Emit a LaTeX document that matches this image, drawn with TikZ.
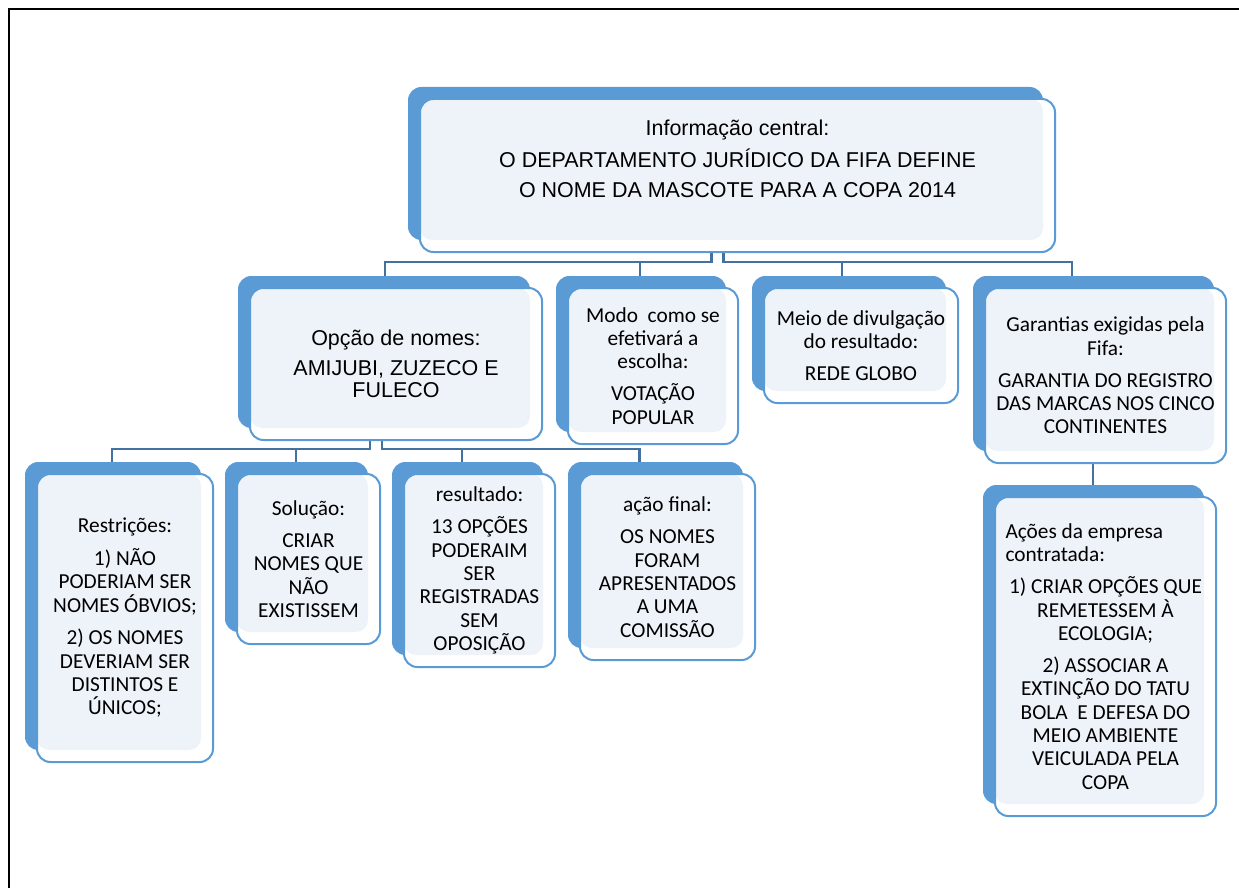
\documentclass[tikz,border=0pt]{standalone}
\usepackage{fontspec}
\setmainfont{Carlito}
\newfontfamily\arialfont{Liberation Sans}
\usetikzlibrary{shadows,backgrounds}

\definecolor{azulfundo}{RGB}{91,155,213}
\definecolor{azulclaro}{RGB}{238,243,250}
\definecolor{azulliga}{RGB}{68,114,160}

\tikzset{
  caixa/.style={draw=azulfundo, line width=1.5pt, fill=white, rounded corners=10pt,
    general shadow={fill=azulfundo, shadow xshift=-9pt, shadow yshift=9pt},
    path picture={\fill[azulclaro, rounded corners=9pt] (path picture bounding box.north west)
      rectangle ([xshift=-9pt,yshift=9pt]path picture bounding box.south east);},
    align=flush center, inner sep=0pt, font=\fontsize{16}{17.5}\selectfont},
  caixaarial/.style={caixa, font=\arialfont\fontsize{16.1}{16.5}\selectfont},
  liga/.style={draw=azulliga, line width=1.8pt}
}

\begin{document}
\begin{tikzpicture}[x=0.75pt, y=-0.75pt]
    \useasboundingbox (0,0) rectangle (1239,888);
    \draw[line width=2.2pt] (9,888) -- (9,9) -- (1239,9);

    % topo
    \node[caixaarial, minimum width=476.25pt, minimum height=114.75pt] (central) at (737.5,175.5)
        {Informação central:\\[6pt] O DEPARTAMENTO JURÍDICO DA FIFA DEFINE\\[6pt] O NOME DA MASCOTE PARA A COPA 2014\\[9pt]\mbox{}};

    % segundo nivel
    \node[caixaarial, minimum width=219pt, minimum height=114pt] (opcao) at (396,364)
        {Opção de nomes:\\[6pt] AMIJUBI, ZUZECO E\\ FULECO};
    \node[caixa, minimum width=127.5pt, minimum height=117pt] (modo) at (653,366)
        {Modo\ \ como se\\ efetivará a\\ escolha:\\[6.5pt] VOTAÇÃO\\ POPULAR};
    \node[caixa, minimum width=145.5pt, minimum height=86.25pt] (meio) at (861,345.5)
        {Meio de divulgação\\ do resultado:\\[6.5pt] REDE GLOBO};
    \node[caixa, minimum width=180.75pt, minimum height=131.25pt] (garantias) at (1105.5,375.5)
        {Garantias exigidas pela\\ Fifa:\\[6.5pt] GARANTIA DO REGISTRO\\ DAS MARCAS NOS CINCO\\ CONTINENTES};

    % terceiro nivel
    \node[caixa, minimum width=132pt, minimum height=216pt] (restricoes) at (125,618)
        {Restrições:\\[7pt] 1) NÃO\\ PODERIAM SER\\ NOMES ÓBVIOS;\\[7pt] 2) OS NOMES\\ DEVERIAM SER\\ DISTINTOS E\\ ÚNICOS;};
    \node[caixa, minimum width=107.25pt, minimum height=127.5pt] (solucao) at (308.5,559)
        {Solução:\\[6.5pt] CRIAR\\ NOMES QUE\\ NÃO\\ EXISTISSEM};
    \node[caixa, minimum width=113.25pt, minimum height=144.75pt] (resultado) at (479.5,570.5)
        {resultado:\\[6.5pt] 13 OPÇÕES\\ PODERAIM\\ SER\\ REGISTRADAS\\ SEM\\ OPOSIÇÃO};
    \node[caixa, minimum width=131.25pt, minimum height=139.5pt] (acao) at (667.5,567)
        {ação final:\\[6.5pt] OS NOMES\\ FORAM\\ APRESENTADOS\\ A UMA\\ COMISSÃO};
    \node[caixa, text width=150pt, minimum width=165.75pt, minimum height=239.25pt] (acoes) at (1105.5,656.5)
        {\makebox[\linewidth][l]{Ações da empresa}\\ \makebox[\linewidth][l]{contratada:}\\[6.5pt]
         1) CRIAR OPÇÕES QUE\\ REMETESSEM À\\ ECOLOGIA;\\[6.5pt] 2) ASSOCIAR A\\ EXTINÇÃO DO TATU\\
         BOLA\ \ E DEFESA DO\\ MEIO AMBIENTE\\ VEICULADA PELA\\ COPA};

    % pontos das ligacoes
    \coordinate (barra1) at (0,262);
    \coordinate (barra2) at (0,449);
    \coordinate (centralesq) at ([xshift=-19.5pt]central.south);
    \coordinate (centraldir) at ([xshift=-10.5pt]central.south);
    \coordinate (opcaoesq) at ([xshift=-19.5pt]opcao.south);
    \coordinate (opcaodir) at ([xshift=-10.5pt]opcao.south);
    \coordinate (opcaotopo) at ([xshift=-8.25pt]opcao.north);
    \coordinate (modotopo) at ([xshift=-9.75pt]modo.north);
    \coordinate (meiotopo) at ([xshift=-14.25pt]meio.north);
    \coordinate (garantiastopo) at ([xshift=-25pt]garantias.north);
    \coordinate (garantiasbase) at ([xshift=-9.4pt]garantias.south);
    \coordinate (restricoestopo) at ([xshift=-9.75pt]restricoes.north);
    \coordinate (solucaotopo) at ([xshift=-9.4pt]solucao.north);
    \coordinate (resultadotopo) at ([xshift=-13pt]resultado.north);
    \coordinate (acaotopo) at ([xshift=-21pt]acao.north);

    \begin{pgfonlayer}{background}
        \draw[liga] (centralesq) |- (barra1 -| opcaotopo) -- (opcaotopo);
        \draw[liga] (centralesq) |- (barra1 -| modotopo) -- (modotopo);
        \draw[liga] (centraldir) |- (barra1 -| meiotopo) -- (meiotopo);
        \draw[liga] (centraldir) |- (barra1 -| garantiastopo) -- (garantiastopo);

        \draw[liga] (opcaoesq) |- (barra2 -| restricoestopo) -- (restricoestopo);
        \draw[liga] (opcaoesq) |- (barra2 -| solucaotopo) -- (solucaotopo);
        \draw[liga] (opcaodir) |- (barra2 -| resultadotopo) -- (resultadotopo);
        \draw[liga] (opcaodir) |- (barra2 -| acaotopo) -- (acaotopo);

        \draw[liga] (garantiasbase) -- (garantiasbase |- acoes.north);
    \end{pgfonlayer}
\end{tikzpicture}
\end{document}
